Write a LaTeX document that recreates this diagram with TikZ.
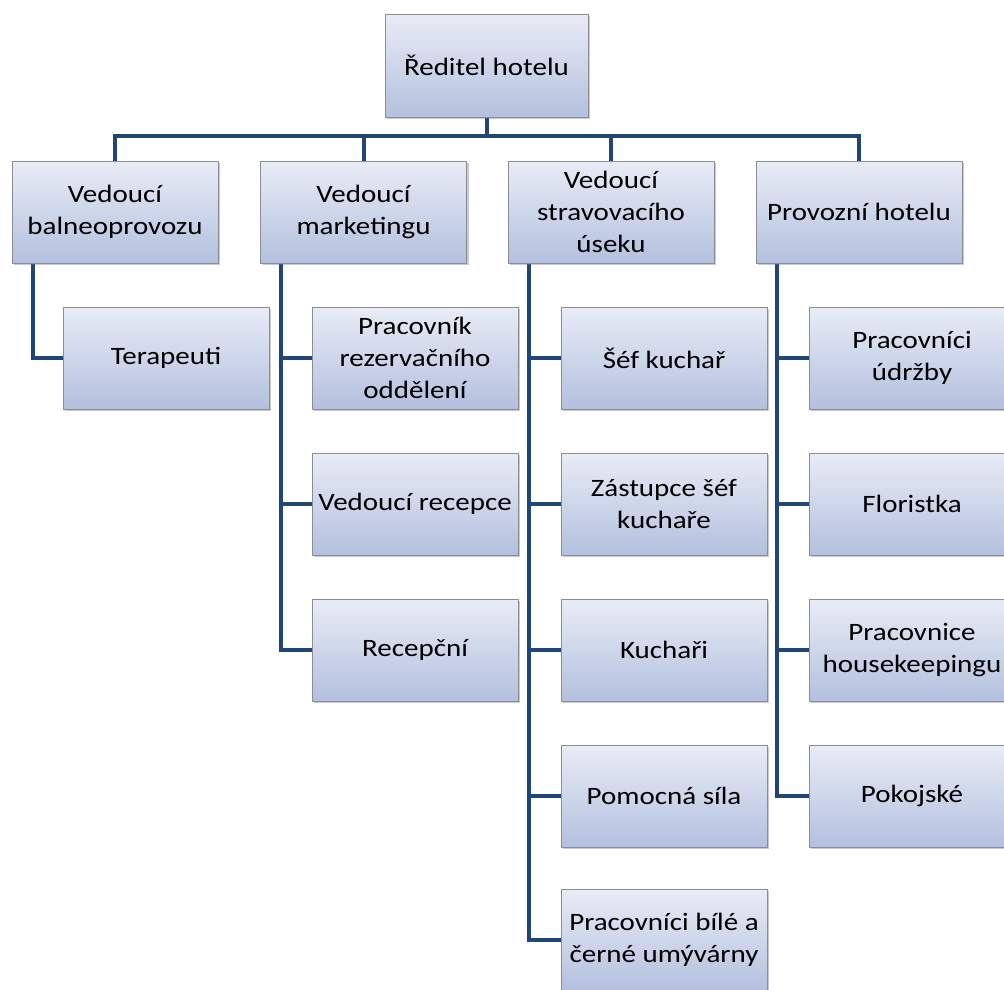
\documentclass[tikz,border=0pt]{standalone}
\usepackage{fontspec}
\setmainfont{Carlito}[FakeStretch=1.16]
\usetikzlibrary{shadows,backgrounds}
\definecolor{boxtop}{HTML}{E9ECF6}
\definecolor{boxbot}{HTML}{B3C0DE}
\definecolor{boxline}{HTML}{8A8D93}
\definecolor{conncol}{HTML}{1F4677}
\tikzset{
  box/.style={draw=boxline, line width=0.8pt, top color=boxtop, bottom color=boxbot,
    minimum width=206pt, minimum height=102pt, align=center,
    inner sep=0pt, font=\fontsize{25}{32}\selectfont,
    drop shadow={shadow xshift=2pt, shadow yshift=-2pt, opacity=0.35, fill=black!60}},
  conn/.style={draw=conncol, line width=4pt, line join=miter}
}
\begin{document}
\begin{tikzpicture}[x=1pt,y=-1pt]
\useasboundingbox (0,0) rectangle (1004,989);
\clip (0,0) rectangle (1004,989);
\node[box, minimum width=203pt, minimum height=103pt] (root) at (486.5,65.5) {Ředitel hotelu};
\node[box] (b1) at (115,212) {Vedoucí\\balneoprovozu};
\node[box] (b2) at (363.5,212) {Vedoucí\\marketingu};
\node[box] (b3) at (611,212) {Vedoucí\\stravovacího\\úseku};
\node[box] (b4) at (859,212) {Provozní hotelu};

\node[box] (t1) at (166,358) {Terapeuti};

\node[box] (m1) at (415,358) {Pracovník\\rezervačního\\oddělení};
\node[box] (m2) at (415,504) {Vedoucí recepce};
\node[box] (m3) at (415,650) {Recepční};

\node[box] (s1) at (664,358) {Šéf kuchař};
\node[box] (s2) at (664,504) {Zástupce šéf\\kuchaře};
\node[box] (s3) at (664,650) {Kuchaři};
\node[box] (s4) at (664,796) {Pomocná síla};
\node[box] (s5) at (664,940) {Pracovníci bílé a\\černé umývárny};

\node[box] (p1) at (912,358) {Pracovníci\\údržby};
\node[box] (p2) at (912,504) {Floristka};
\node[box] (p3) at (912,650) {Pracovnice\\housekeepingu};
\node[box] (p4) at (912,796) {Pokojské};

\begin{scope}[on background layer]
\draw[conn] (root.south) -- ++(0,19) coordinate (bus);
\draw[conn] (bus) -| (b1.north);
\draw[conn] (bus) -| (b2.north);
\draw[conn] (bus) -| (b3.north);
\draw[conn] (bus) -| (b4.north);

\draw[conn] ([xshift=21pt]b1.south west) |- (t1.west);

\draw[conn] ([xshift=21pt]b2.south west) |- (m3.west);
\draw[conn] ([xshift=21pt]b2.south west |- m1.west) -- (m1.west);
\draw[conn] ([xshift=21pt]b2.south west |- m2.west) -- (m2.west);

\draw[conn] ([xshift=21pt]b3.south west) |- (s5.west);
\draw[conn] ([xshift=21pt]b3.south west |- s1.west) -- (s1.west);
\draw[conn] ([xshift=21pt]b3.south west |- s2.west) -- (s2.west);
\draw[conn] ([xshift=21pt]b3.south west |- s3.west) -- (s3.west);
\draw[conn] ([xshift=21pt]b3.south west |- s4.west) -- (s4.west);

\draw[conn] ([xshift=21pt]b4.south west) |- (p4.west);
\draw[conn] ([xshift=21pt]b4.south west |- p1.west) -- (p1.west);
\draw[conn] ([xshift=21pt]b4.south west |- p2.west) -- (p2.west);
\draw[conn] ([xshift=21pt]b4.south west |- p3.west) -- (p3.west);
\end{scope}
\end{tikzpicture}
\end{document}
